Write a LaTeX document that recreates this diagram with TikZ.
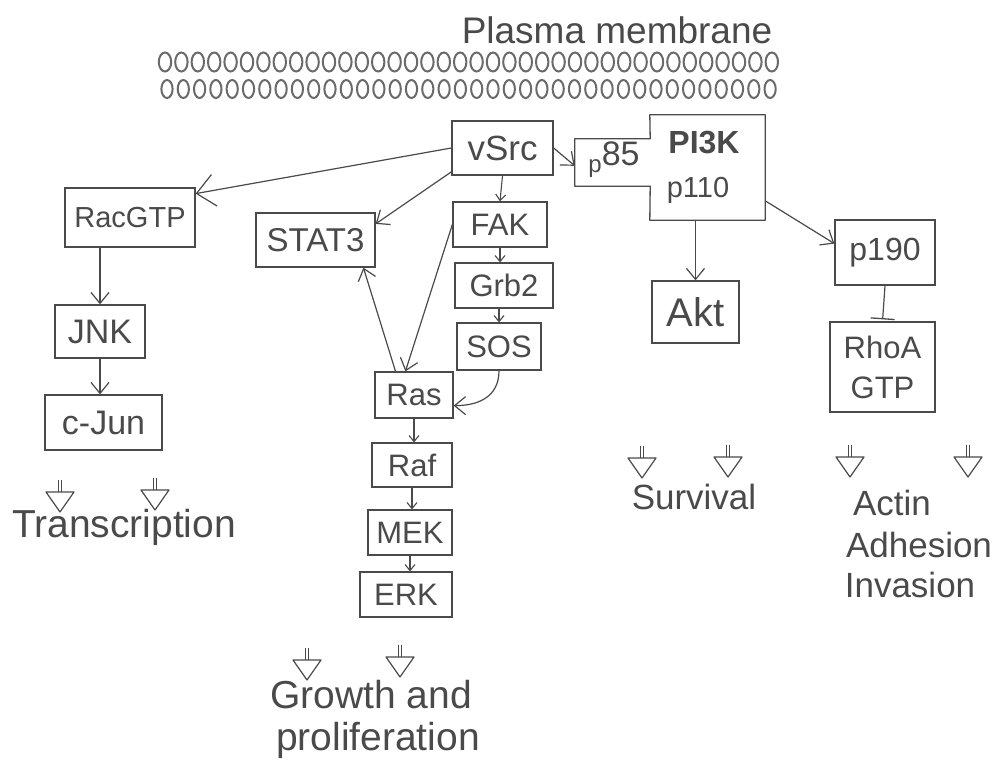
\documentclass[tikz,border=0pt]{standalone}
\usepackage{fontspec}
\setmainfont{Liberation Sans}
\usetikzlibrary{arrows.meta}
\definecolor{pencil}{HTML}{4A4A4A}
\definecolor{lead}{HTML}{6A6A6A}
\newcommand\fsz[1]{\fontsize{#1}{#1}\selectfont}
\begin{document}
\begin{tikzpicture}[x=1pt,y=-1pt,
  every node/.style={text=pencil},
  box/.style={draw=pencil, line width=1.3pt, inner sep=0pt, font=\fsz{31}},
  ghost/.style={inner sep=0pt},
  link/.style={draw=pencil, line width=1.2pt, -{Straight Barb[length=11pt,width=18pt]}},
  biglink/.style={draw=pencil, line width=1.2pt, -{Straight Barb[length=18pt,width=32pt]}},
  smalllink/.style={draw=pencil, line width=1.1pt, -{Straight Barb[length=6pt,width=10pt]}},
  inhib/.style={draw=pencil, line width=1.2pt, shorten >=2pt, -{Bar[width=24pt,line width=1.3pt]}},
  label/.style={inner sep=0pt},
  lipid/.style={draw=lead, line width=2pt},
  outarrow/.pic={
    \draw[draw=pencil, line width=1.2pt, line join=round] (-14,0) -- (14,0) -- (0,20) -- cycle;
    \draw[draw=pencil, line width=1.1pt] (-1.7,-12) -- (-1.7,0) (1.7,-12) -- (1.7,0);
  }]
\fill[white] (0,0) rectangle (995,761);
\useasboundingbox (0,0) rectangle (995,761);

% plasma membrane
\node[label, font=\fsz{37}] (pmlabel) at (617,30) {Plasma membrane};
\foreach \i in {0,...,37} {
  \draw[lipid] (165+\i*16.4,62) ellipse [x radius=6.2, y radius=9.5];
  \draw[lipid] (167+\i*16.3,89) ellipse [x radius=5.6, y radius=9];
}

% boxes
\node[box, minimum width=101pt, minimum height=54pt, font=\fsz{35}] (vsrc) at (502.5,148) {vSrc};
\node[box, minimum width=130pt, minimum height=59pt, font=\fsz{29}] (racgtp) at (130,217.5) {RacGTP};
\node[box, minimum width=119pt, minimum height=54pt, font=\fsz{33}] (stat3) at (315.5,240) {STAT3};
\node[box, minimum width=94pt, minimum height=45pt] (fak) at (500,224.5) {FAK};
\node[box, minimum width=98pt, minimum height=45pt] (grb2) at (504,285.5) {Grb2};
\node[box, minimum width=84pt, minimum height=47pt] (sos) at (499,346.5) {SOS};
\node[box, minimum width=78pt, minimum height=46pt] (ras) at (414,395) {Ras};
\node[box, minimum width=80pt, minimum height=44pt] (raf) at (412,465) {Raf};
\node[box, minimum width=84pt, minimum height=45pt] (mek) at (410,532.5) {MEK};
\node[box, minimum width=92pt, minimum height=45pt] (erk) at (406,594.5) {ERK};
\node[box, minimum width=90pt, minimum height=53pt, font=\fsz{34}] (jnk) at (100,331.5) {JNK};
\node[box, minimum width=117pt, minimum height=55pt, font=\fsz{34}] (cjun) at (103.5,422.5) {c-Jun};
\node[box, minimum width=87pt, minimum height=62pt, font=\fsz{40}] (akt) at (695.5,312) {Akt};
\node[box, minimum width=100pt, minimum height=65pt, font=\fsz{32}] (p190) at (885,252.5) {p190};
\node[box, minimum width=105pt, minimum height=90pt, align=center, font=\fontsize{31}{40}\selectfont] (rhoa) at (882.5,367) {RhoA\\GTP};

% PI3K complex
\node[ghost, minimum width=115pt, minimum height=105pt] (pi3k) at (707.5,167.5) {};
\node[ghost, minimum width=75pt, minimum height=47pt] (p85) at (612.5,162.5) {};
\draw[draw=pencil, line width=1.3pt, line join=round]
  (p85.north west) -- (p85.north east) -- (pi3k.north west) -- (pi3k.north east)
  -- (pi3k.south east) -- (pi3k.south west) -- (p85.south east) -- (p85.south west) -- cycle;
\node[label, font=\bfseries\fsz{32}] (pi3ktext) at (704,143) {PI3K};
\node[label, font=\fsz{29}] (p110text) at (698,190) {p110};
\node[label, font=\fsz{34}] (p85text) at (614,160) {\raisebox{-7pt}{\fsz{24}p}85};

% connectors
\draw[biglink] (vsrc.west) -- (racgtp.20);
\draw[link] (vsrc.205) -- (stat3.15);
\draw[smalllink] (vsrc.south) -- (fak.north);
\draw[smalllink] (fak.south) -- (fak.south |- grb2.north);
\draw[smalllink] (sos.north |- grb2.south) -- (sos.north);
\draw[link] (fak.west) -- (ras.110);
\draw[link] (ras.128) -- (stat3.-30);
\draw[link] (sos.south) .. controls +(0,28) and +(22,0) .. (ras.-15);
\draw[smalllink] (ras.south) -- (ras.south |- raf.north);
\draw[smalllink] (raf.south) -- (raf.south |- mek.north);
\draw[smalllink] (mek.south) -- (mek.south |- erk.north);
\draw[link] (jnk.north |- racgtp.south) -- (jnk.north);
\draw[link] (jnk.south) -- (jnk.south |- cjun.north);
\draw[link] (vsrc.east) -- (p85.185);
\draw[link] (akt.north |- pi3k.south) -- (akt.north);
\draw[link] (pi3k.-30) -- (p190.170);
\draw[inhib] (p190.south) -- (rhoa.north);

% outcome arrows
\pic at (60,492) {outarrow};
\pic at (155,490) {outarrow};
\pic at (307,660) {outarrow};
\pic at (400,657) {outarrow};
\pic at (642,458) {outarrow};
\pic at (728,457) {outarrow};
\pic at (850,457) {outarrow};
\pic at (968,457) {outarrow};

% outcome labels
\node[label, font=\fsz{39}] (transcription) at (124,527) {Transcription};
\node[label, font=\fsz{39}] (growth) at (371,695) {Growth and};
\node[label, font=\fsz{39}] (prolif) at (378,740) {proliferation};
\node[label, font=\fsz{35}] (survival) at (694,497) {Survival};
\node[label, font=\fsz{35}] (actin) at (892,503) {Actin};
\node[label, font=\fsz{35}] (adhesion) at (919,545) {Adhesion};
\node[label, font=\fsz{35}] (invasion) at (910,585) {Invasion};
\end{tikzpicture}
\end{document}
